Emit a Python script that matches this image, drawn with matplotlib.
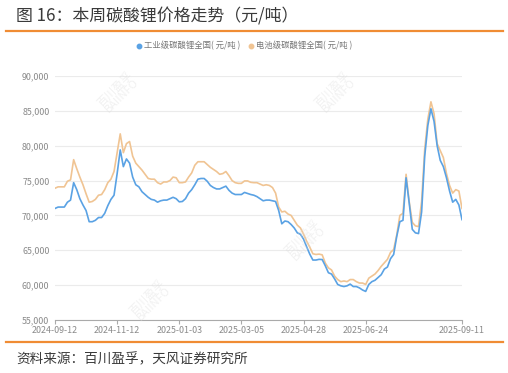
import numpy as np
import matplotlib.pyplot as plt
from matplotlib.lines import Line2D

plt.rcParams['font.family'] = ['Noto Sans CJK SC', 'DejaVu Sans']

# 电池级碳酸锂全国 (元/吨)
battery = [73900, 74100, 74100, 74100, 74900, 75100, 78000, 76700, 75500, 74400,
           73100, 71900, 72000, 72300, 72900, 73000, 73700, 74700, 75200, 76300,
           79000, 81700, 79000, 80300, 80600, 78500, 77500, 77000, 76500, 75900,
           75300, 75200, 75200, 74700, 74500, 74800, 74800, 75000, 75500, 75400,
           74700, 74700, 74800, 75500, 76100, 77200, 77700, 77700, 77700, 77300,
           76900, 76600, 76300, 75900, 76000, 76300, 75700, 75000, 74700, 74600,
           74600, 74950, 74950, 74750, 74700, 74700, 74500, 74300, 74400, 74300,
           74000, 73200, 71200, 70500, 70600, 70200, 70000, 69300, 68600, 68200,
           67300, 66300, 65450, 64500, 64400, 64450, 64350, 63170, 62480, 62180,
           61290, 60800, 60500, 60600, 60500, 60800, 60800, 60500, 60300, 60300,
           60100, 61000, 61300, 61600, 62100, 62700, 63200, 63700, 64700, 65100,
           67200, 70000, 70300, 75900, 72000, 69000, 68500, 68400, 72000, 79500,
           83800, 86300, 84600, 80300, 79300, 78300, 76000, 74300, 73200, 73700,
           73500, 71000]

# 工业级碳酸锂全国 (元/吨)
industrial = [71000, 71200, 71200, 71200, 71900, 72200, 74700, 73700, 72400, 71500,
              70700, 69100, 69100, 69300, 69700, 69700, 70300, 71400, 72300, 72900,
              76000, 79400, 77000, 78100, 77500, 75500, 74400, 74100, 73400, 73000,
              72600, 72300, 72200, 71900, 72100, 72200, 72200, 72400, 72600, 72400,
              71950, 72000, 72400, 73200, 73700, 74400, 75200, 75300, 75300, 74900,
              74300, 74000, 73800, 73800, 74000, 74200, 73600, 73200, 73000, 73000,
              73000, 73300, 73150, 73000, 72900, 72700, 72400, 72100, 72200, 72200,
              72100, 72000, 70700, 68800, 69200, 69100, 68700, 68200, 67500, 67300,
              66600, 65500, 64450, 63600, 63600, 63700, 63670, 62780, 61780, 61590,
              60890, 60100, 59900, 59800, 59900, 60150, 59800, 59800, 59600, 59300,
              59100, 60100, 60500, 60700, 61100, 61500, 62300, 62600, 63800, 64400,
              67000, 69100, 69300, 75400, 71800, 68000, 67500, 67400, 70500, 78500,
              82900, 85300, 83500, 80000, 77900, 77000, 75400, 73500, 71900, 72300,
              71500, 69400]

tick_labels = ['2024-09-12', '2024-11-12', '2025-01-03', '2025-03-05',
               '2025-04-28', '2025-06-24', '2025-09-11']
tick_idx = [0, 20, 40, 60, 80, 100, 131]

blue = '#5AA2E4'
orange = '#F0C493'
grey = '#8a8a8a'

fig = plt.figure(figsize=(5.08, 3.73), dpi=100)
W, H = 508, 373

# 标题与上下橙线
fig.text(16 / W, 1 - 16 / H, '图 16：本周碳酸锂价格走势（元/吨）', fontsize=12.2,
         color='#3a3a3a', va='center', ha='left', fontweight='medium')
fig.add_artist(Line2D([6 / W, 503 / W], [1 - 31 / H, 1 - 31 / H], color='#F08C34', lw=1.6))
fig.add_artist(Line2D([6 / W, 503 / W], [1 - 342 / H, 1 - 342 / H], color='#F08C34', lw=1.6))
fig.text(16 / W, 1 - 359 / H, '资料来源：百川盈孚，天风证券研究所', fontsize=9.8,
         color='#3a3a3a', va='center', ha='left')

ax = fig.add_axes([55 / W, 1 - 320 / H, (462 - 55) / W, (320 - 76) / H])
x = np.arange(len(battery))
ax.plot(x, industrial, color=blue, lw=1.2, zorder=3)
ax.plot(x, battery, color=orange, lw=1.2, zorder=2)

ax.set_xlim(0, len(battery) - 1)
ax.set_ylim(55000, 90000)
ax.set_yticks(range(55000, 90001, 5000))
ax.set_yticklabels([f'{v:,}' for v in range(55000, 90001, 5000)])
ax.set_xticks(tick_idx)
ax.set_xticklabels(tick_labels)
ax.grid(axis='y', color='#ebebeb', lw=0.8)
ax.set_axisbelow(True)
for s in ['top', 'right', 'left']:
    ax.spines[s].set_visible(False)
ax.spines['bottom'].set_color('#aaaaaa')
ax.spines['bottom'].set_linewidth(0.8)
ax.tick_params(axis='y', length=0, labelsize=6.4, labelcolor=grey, pad=4)
ax.tick_params(axis='x', length=3, color='#aaaaaa', labelsize=6.4, labelcolor=grey, pad=1.5)

# 图例
handles = [Line2D([], [], marker='o', ls='', color=blue, markersize=3.2),
           Line2D([], [], marker='o', ls='', color=orange, markersize=3.2)]
fig.legend(handles, ['工业级碳酸锂全国( 元/吨 )', '电池级碳酸锂全国( 元/吨 )'],
           loc='center', bbox_to_anchor=(244 / W, 1 - 46 / H), ncol=2, frameon=False,
           fontsize=6, labelcolor='#777777', handletextpad=0.2, columnspacing=0.9,
           handlelength=0.8)

# 水印
for px, py in [(118, 92), (335, 92), (305, 240), (150, 300)]:
    fig.text(px / W, 1 - py / H, '百川盈孚\nBAIINFO', fontsize=8, color='#dcdcdc',
             alpha=0.4, rotation=45, ha='center', va='center', linespacing=0.9)

fig.savefig('out.png', dpi=100)
